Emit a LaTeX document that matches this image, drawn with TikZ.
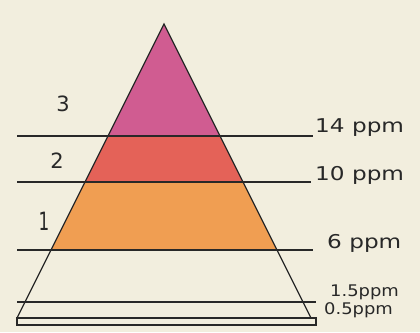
\documentclass[tikz,border=0pt]{standalone}
\usepackage{fontspec}
\setmainfont{DejaVu Sans}
\usepackage{graphicx}
\definecolor{paper}{RGB}{242,238,222}
\definecolor{pinkc}{RGB}{208,92,145}
\definecolor{redc}{RGB}{228,98,88}
\definecolor{orangec}{RGB}{240,158,82}
\definecolor{ink}{RGB}{40,40,40}
\begin{document}
\begin{tikzpicture}[x=1pt,y=-1pt,
  level/.style={draw=ink,line width=1.3pt},
  ppm/.style={anchor=west,inner sep=0pt,text=ink,font=\fontsize{19}{19}\selectfont},
  ppms/.style={anchor=west,inner sep=0pt,text=ink,font=\fontsize{16}{16}\selectfont},
  zone/.style={inner sep=0pt,text=ink,font=\fontsize{21}{21}\selectfont}]
\fill[paper] (0,0) rectangle (420,332);
\useasboundingbox (0,0) rectangle (420,332);
% coordinates
\coordinate (apex) at (164,24);
\coordinate (bl) at (17,318);
\coordinate (br) at (311,318);
% fills
\fill[pinkc] (apex) -- (108,136) -- (220,136) -- cycle;
\fill[redc] (108,136) -- (220,136) -- (243,182) -- (85,182) -- cycle;
\fill[orangec] (85,182) -- (243,182) -- (277,250) -- (51,250) -- cycle;
% triangle
\draw[level,line join=miter] (bl) -- (apex) -- (br);
% level lines
\coordinate (l14a) at (17,136); \coordinate (l14b) at (313,136);
\coordinate (l10a) at (17,182); \coordinate (l10b) at (311,182);
\coordinate (l6a) at (17,250); \coordinate (l6b) at (313,250);
\coordinate (l15a) at (17,302); \coordinate (l15b) at (316,302);
\draw[level] (l14a) -- (l14b);
\draw[level] (l10a) -- (l10b);
\draw[level] (l6a) -- (l6b);
\draw[level] (l15a) -- (l15b);
\draw[level] (17,318) rectangle (316,325);
% labels
\node[ppm] (t14) at (315,128) {\scalebox{1.22}[1]{14 ppm}};
\node[ppm] (t10) at (315,175) {\scalebox{1.22}[1]{10 ppm}};
\node[ppm] (t6) at (327,243) {\scalebox{1.22}[1]{6 ppm}};
\node[ppms] (t15) at (330,292) {\scalebox{1.12}[1]{1.5ppm}};
\node[ppms] (t05) at (324,310) {\scalebox{1.12}[1]{0.5ppm}};
\node[zone] (z3) at (63,104) {3};
\node[zone] (z2) at (57,161) {2};
\node[zone] (z1) at (44,221) {\scalebox{0.8}[1.2]{1}};
\end{tikzpicture}
\end{document}
